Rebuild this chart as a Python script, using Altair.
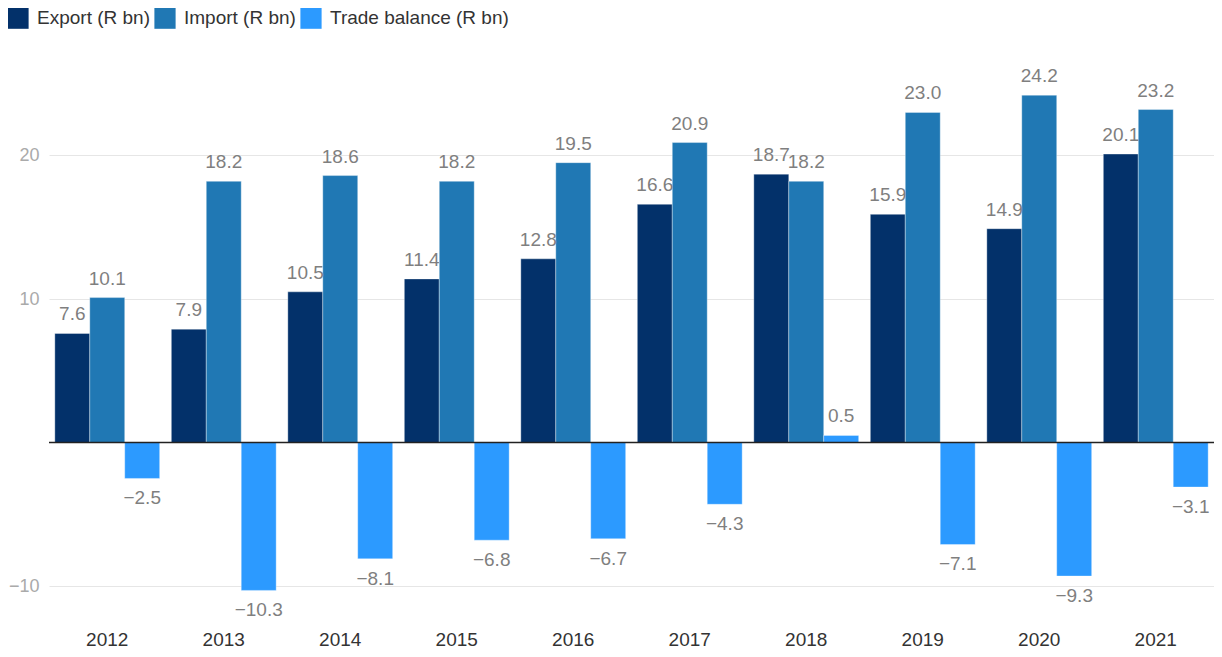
import altair as alt
import pandas as pd

years = ["2012", "2013", "2014", "2015", "2016", "2017", "2018", "2019", "2020", "2021"]
export_vals = [7.6, 7.9, 10.5, 11.4, 12.8, 16.6, 18.7, 15.9, 14.9, 20.1]
import_vals = [10.1, 18.2, 18.6, 18.2, 19.5, 20.9, 18.2, 23.0, 24.2, 23.2]
balance_vals = [-2.5, -10.3, -8.1, -6.8, -6.7, -4.3, 0.5, -7.1, -9.3, -3.1]

series_names = ["Export (R bn)", "Import (R bn)", "Trade balance (R bn)"]
series_colors = ["#03316a", "#2078b4", "#2c9aff"]

rows = []
for name, vals in zip(series_names, [export_vals, import_vals, balance_vals]):
    for y, v in zip(years, vals):
        rows.append({"year": y, "series": name, "value": v})
df = pd.DataFrame(rows)

FONT = "Liberation Sans"

x_enc = alt.X("year:N", sort=years, title=None,
              scale=alt.Scale(paddingInner=0.1, paddingOuter=0.05),
              axis=alt.Axis(labelAngle=0, ticks=False, domain=False, labelFontSize=19,
                            labelColor="#333333", labelPadding=8, labelBaseline="top",
                            labelFont=FONT, grid=False))
xo_enc = alt.XOffset("series:N", sort=series_names, scale=alt.Scale(paddingInner=0, paddingOuter=0))
y_scale = alt.Scale(domain=[-12.5, 27], nice=False, zero=False)

base = alt.Chart(df)

bars = base.mark_bar(stroke="white", strokeWidth=1, strokeOpacity=0.35).encode(
    x=x_enc,
    xOffset=xo_enc,
    y=alt.Y("value:Q", scale=y_scale, title=None,
            axis=alt.Axis(values=[-10, 10, 20], ticks=False, domain=False, labelFontSize=18,
                          labelColor="#aaaaaa", labelPadding=10, gridColor="#e6e6e6",
                          labelFont=FONT, format="d")),
    color=alt.Color("series:N", sort=series_names,
                    scale=alt.Scale(domain=series_names, range=series_colors),
                    legend=alt.Legend(title=None, orient="none", direction="horizontal",
                                      legendX=-42, legendY=-48, symbolType="square",
                                      symbolSize=450, symbolStrokeWidth=0, symbolOpacity=1,
                                      labelFontSize=19, labelColor="#333333", labelFont=FONT,
                                      labelOffset=8, columnPadding=4, labelLimit=400)),
)

pos_text = base.transform_filter(alt.datum.value >= 0).mark_text(
    baseline="alphabetic", dy=-13, fontSize=19, color="#7f7f7f", font=FONT
).encode(
    x=alt.X("year:N", sort=years),
    xOffset=xo_enc,
    y=alt.Y("value:Q", scale=y_scale),
    text=alt.Text("value:Q", format=".1f"),
)

neg_text = base.transform_filter(alt.datum.value < 0).mark_text(
    baseline="alphabetic", dy=26, fontSize=19, color="#7f7f7f", font=FONT
).encode(
    x=alt.X("year:N", sort=years),
    xOffset=xo_enc,
    y=alt.Y("value:Q", scale=y_scale),
    text=alt.Text("value:Q", format=".1f"),
)

zero_rule = alt.Chart(pd.DataFrame({"z": [0]})).mark_rule(color="#222222", strokeWidth=1.5).encode(
    y=alt.Y("z:Q", scale=y_scale)
)

chart = alt.layer(bars, zero_rule, pos_text, neg_text).properties(
    width=1165, height=567,
    padding={"left": 41, "top": 47, "right": 0, "bottom": 27},
    autosize=alt.AutoSizeParams(type="none"),
).configure(font=FONT).configure_view(stroke=None)

chart.save("out.html", embed_options={"renderer": "svg", "actions": False})
